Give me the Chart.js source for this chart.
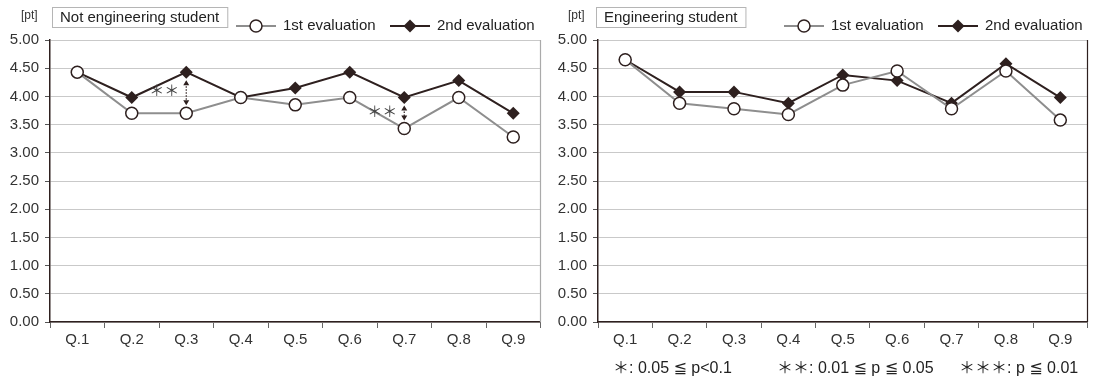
<!DOCTYPE html>
<html>
<head>
<meta charset="utf-8">
<script src="https://cdn.jsdelivr.net/npm/chart.js@4.4.1/dist/chart.umd.min.js"></script>
<style>
    body { margin: 0; background: #fff; }
    #wrap { position: relative; width: 1095px; height: 385px; overflow: hidden; }
    .box { position: absolute; top: 0; height: 385px; }
    #leftBox { left: 0; width: 548px; }
    #rightBox { left: 548px; width: 547px; }
</style>
</head>
<body>
<div id="wrap">
    <div class="box" id="leftBox"><canvas id="leftChart"></canvas></div>
    <div class="box" id="rightBox"><canvas id="rightChart"></canvas></div>
</div>
<script>
const questions = ['Q.1', 'Q.2', 'Q.3', 'Q.4', 'Q.5', 'Q.6', 'Q.7', 'Q.8', 'Q.9'];
const yTickValues = [0, 0.5, 1, 1.5, 2, 2.5, 3, 3.5, 4, 4.5, 5];
const seriesNames = ['1st evaluation', '2nd evaluation'];

const nonEng1st = [4.43, 3.70, 3.70, 3.98, 3.85, 3.98, 3.43, 3.98, 3.28];
const nonEng2nd = [4.43, 3.98, 4.43, 3.98, 4.15, 4.43, 3.98, 4.28, 3.70];
const eng1st = [4.65, 3.88, 3.78, 3.68, 4.20, 4.45, 3.78, 4.45, 3.58];
const eng2nd = [4.65, 4.08, 4.08, 3.88, 4.38, 4.28, 3.88, 4.58, 3.98];

// significance marks: which question, which mark
const nonEngSig = [{ q: 'Q.3', mark: '＊＊' }, { q: 'Q.7', mark: '＊＊' }];
const engSig = [];

const pValueNote = ['＊: 0.05 ≦ p<0.1', '＊＊: 0.01 ≦ p ≦ 0.05', '＊＊＊: p ≦ 0.01'];

const FONT = "'Liberation Sans', Arial, 'DejaVu Sans', 'Noto Sans CJK JP', sans-serif";
const DARK = '#2e201f';
const GRAY_LINE = '#8e8e8e';

function drawMarker(ctx, type, x, y) {
    ctx.save();
    ctx.lineWidth = 1.5;
    ctx.strokeStyle = DARK;
    if (type === 'circle') {
        ctx.fillStyle = '#fff';
        ctx.beginPath();
        ctx.arc(x, y, 6, 0, Math.PI * 2);
        ctx.fill();
        ctx.stroke();
    } else {
        ctx.fillStyle = DARK;
        ctx.beginPath();
        ctx.moveTo(x, y - 6.5);
        ctx.lineTo(x + 6.5, y);
        ctx.lineTo(x, y + 6.5);
        ctx.lineTo(x - 6.5, y);
        ctx.closePath();
        ctx.fill();
    }
    ctx.restore();
}

const decorPlugin = {
    id: 'decor',
    afterDraw(chart) {
        const o = chart.options.plugins.decor;
        const ctx = chart.ctx;
        const area = chart.chartArea;
        const xs = chart.scales.x;
        const ys = chart.scales.y;

        ctx.save();
        // right border of the plot
        ctx.strokeStyle = o.rightBorder;
        ctx.lineWidth = 1.2;
        ctx.beginPath();
        ctx.moveTo(area.right, area.top);
        ctx.lineTo(area.right, area.bottom);
        ctx.stroke();

        // unit
        ctx.fillStyle = '#333';
        ctx.font = '12px ' + FONT;
        ctx.textAlign = 'left';
        ctx.textBaseline = 'middle';
        ctx.fillText('[pt]', o.unitX, 16);

        // title box
        ctx.font = '15px ' + FONT;
        const tw = ctx.measureText(o.title).width;
        ctx.strokeStyle = '#b5b5b5';
        ctx.lineWidth = 1;
        ctx.strokeRect(o.boxX + 0.5, 7.5, tw + 16, 20);
        ctx.fillStyle = '#222';
        ctx.fillText(o.title, o.boxX + 8, 17.5);

        // legend
        const items = [
            { x: 236, color: GRAY_LINE, marker: 'circle', text: seriesNames[0] },
            { x: 390, color: DARK, marker: 'diamond', text: seriesNames[1] }
        ];
        items.forEach(it => {
            const ly = 26;
            ctx.strokeStyle = it.color;
            ctx.lineWidth = 2;
            ctx.beginPath();
            ctx.moveTo(it.x, ly);
            ctx.lineTo(it.x + 40, ly);
            ctx.stroke();
            drawMarker(ctx, it.marker, it.x + 20, ly);
            ctx.fillStyle = '#222';
            ctx.font = '15px ' + FONT;
            ctx.fillText(it.text, it.x + 47, ly);
        });

        // significance arrows
        o.sig.forEach(s => {
            const i = questions.indexOf(s.q);
            const x = xs.getPixelForValue(i);
            const yTop = ys.getPixelForValue(chart.data.datasets[1].data[i]) + 8;
            const yBot = ys.getPixelForValue(chart.data.datasets[0].data[i]) - 8;
            ctx.strokeStyle = DARK;
            ctx.fillStyle = DARK;
            ctx.lineWidth = 1.2;
            ctx.setLineDash([1.5, 1.5]);
            ctx.beginPath();
            ctx.moveTo(x, yTop + 3);
            ctx.lineTo(x, yBot - 3);
            ctx.stroke();
            ctx.setLineDash([]);
            ctx.beginPath();
            ctx.moveTo(x, yTop); ctx.lineTo(x - 3, yTop + 5); ctx.lineTo(x + 3, yTop + 5); ctx.closePath();
            ctx.moveTo(x, yBot); ctx.lineTo(x - 3, yBot - 5); ctx.lineTo(x + 3, yBot - 5); ctx.closePath();
            ctx.fill();
            ctx.fillStyle = '#444';
            ctx.font = "15px 'Noto Sans CJK JP', sans-serif";
            ctx.textAlign = 'right';
            ctx.fillText(s.mark, x - 7, (yTop + yBot) / 2 - 2);
            ctx.textAlign = 'left';
        });

        // p-value note
        if (o.note) {
            ctx.fillStyle = '#222';
            ctx.font = '16px ' + FONT;
            const noteX = [65, 229, 411];
            o.note.forEach((t, k) => ctx.fillText(t, noteX[k], 369));
        }
        ctx.restore();
    }
};

function makeChart(id, first, second, opts) {
    return new Chart(document.getElementById(id).getContext('2d'), {
        type: 'line',
        data: {
            labels: questions,
            datasets: [{
                label: seriesNames[0],
                data: first,
                borderColor: GRAY_LINE,
                borderWidth: 2,
                pointStyle: 'circle',
                pointRadius: 6,
                pointBackgroundColor: '#fff',
                pointBorderColor: DARK,
                pointBorderWidth: 1.5,
                tension: 0
            }, {
                label: seriesNames[1],
                data: second,
                borderColor: DARK,
                borderWidth: 2,
                pointStyle: 'rectRot',
                pointRadius: 6.5,
                pointBackgroundColor: DARK,
                pointBorderColor: DARK,
                pointBorderWidth: 0,
                tension: 0
            }]
        },
        options: {
            responsive: true,
            maintainAspectRatio: false,
            animation: false,
            layout: { padding: { top: 40, right: opts.padRight, left: 0, bottom: 0 } },
            plugins: {
                legend: { display: false },
                tooltip: { enabled: false },
                decor: opts.decor
            },
            scales: {
                x: {
                    offset: true,
                    grid: { offset: true, drawOnChartArea: false, tickLength: 6, color: '#666' },
                    border: { color: DARK, width: 1.5 },
                    ticks: { color: '#333', font: { family: FONT, size: 15 }, padding: 3 },
                    afterFit: s => { s.height = 63; }
                },
                y: {
                    min: 0,
                    max: 5,
                    afterBuildTicks: s => { s.ticks = yTickValues.map(v => ({ value: v })); },
                    grid: { color: '#c9c9c9', tickColor: '#555', tickLength: 5 },
                    border: { color: DARK, width: 1.5 },
                    ticks: {
                        color: '#333',
                        font: { family: FONT, size: 15 },
                        padding: 6,
                        callback: v => Number(v).toFixed(2)
                    },
                    afterFit: s => { s.width = 50; }
                }
            }
        },
        plugins: [decorPlugin]
    });
}

makeChart('leftChart', nonEng1st, nonEng2nd, {
    padRight: 5,
    decor: { title: 'Not engineering student', unitX: 21, boxX: 52, sig: nonEngSig, rightBorder: '#aaaaaa', note: null }
});

makeChart('rightChart', eng1st, eng2nd, {
    padRight: 2,
    decor: { title: 'Engineering student', unitX: 20, boxX: 48, sig: engSig, rightBorder: DARK, note: pValueNote }
});
</script>
</body>
</html>
